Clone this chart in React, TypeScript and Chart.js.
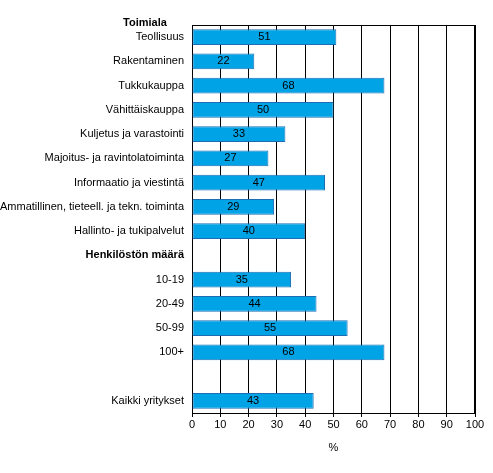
import { useEffect, useRef } from 'react';
import { Chart, registerables } from 'chart.js';

Chart.register(...registerables);

const categories = [
  'Teollisuus',
  'Rakentaminen',
  'Tukkukauppa',
  'Vähittäiskauppa',
  'Kuljetus ja varastointi',
  'Majoitus- ja ravintolatoiminta',
  'Informaatio ja viestintä',
  'Ammatillinen, tieteell. ja tekn. toiminta',
  'Hallinto- ja tukipalvelut',
  'Henkilöstön määrä',
  '10-19',
  '20-49',
  '50-99',
  '100+',
  '',
  'Kaikki yritykset'
];

const values = [51, 22, 68, 50, 33, 27, 47, 29, 40, null, 35, 44, 55, 68, null, 43];

const headingTop = 'Toimiala';
const boldRows = ['Henkilöstön määrä'];
const axisTitle = '%';

const FONT = '"Liberation Sans", Arial, sans-serif';

export default function App() {
  const canvasRef = useRef<HTMLCanvasElement>(null);
  const chartRef = useRef<Chart | null>(null);

  useEffect(() => {
    if (!canvasRef.current) return;
    const ctx = canvasRef.current.getContext('2d');
    if (!ctx) return;
    if (chartRef.current) chartRef.current.destroy();

    const labelPlugin = {
      id: 'barLabels',
      afterDatasetsDraw(chart: any) {
        const c = chart.ctx;
        const meta = chart.getDatasetMeta(0);
        c.save();
        c.font = '11px ' + FONT;
        c.fillStyle = '#000';
        c.textAlign = 'center';
        c.textBaseline = 'middle';
        meta.data.forEach((bar: any, i: number) => {
          const v = values[i];
          if (v == null) return;
          c.fillText(String(v), (bar.x + bar.base) / 2, bar.y);
        });
        // heading above the first category
        c.font = 'bold 11px ' + FONT;
        c.fillText(headingTop, 145, chart.chartArea.top - 2);
        c.restore();
      }
    };

    chartRef.current = new Chart(ctx, {
      type: 'bar',
      data: {
        labels: categories,
        datasets: [
          {
            data: values,
            backgroundColor: '#00a3e6',
            borderColor: '#1b6eb4',
            borderWidth: 1,
            borderSkipped: false,
            barPercentage: 0.64,
            categoryPercentage: 1
          }
        ]
      },
      options: {
        indexAxis: 'y',
        animation: false,
        responsive: false,
        layout: { padding: { top: 25, right: 18, left: 0, bottom: 18 } },
        plugins: {
          legend: { display: false },
          tooltip: { enabled: false }
        },
        scales: {
          x: {
            min: 0,
            max: 100,
            afterFit(scale: any) {
              scale.height = 42;
            },
            ticks: {
              stepSize: 10,
              color: '#000',
              font: { family: FONT, size: 11 },
              padding: 1,
              maxRotation: 0
            },
            grid: {
              color: '#000',
              lineWidth: 1,
              drawTicks: true,
              tickLength: 4,
              tickColor: '#000'
            },
            border: { color: '#000', width: 1 },
            title: {
              display: true,
              text: axisTitle,
              color: '#000',
              font: { family: FONT, size: 11 },
              padding: { top: 8, bottom: 0 }
            }
          },
          y: {
            afterFit(scale: any) {
              scale.width = 192;
            },
            ticks: {
              color: '#000',
              padding: 8,
              autoSkip: false,
              font: (c: any) => ({
                family: FONT,
                size: 11,
                weight: boldRows.includes(categories[c.index]) ? 'bold' : 'normal'
              })
            },
            grid: { display: false, drawTicks: false },
            border: { color: '#000', width: 1 }
          }
        }
      },
      plugins: [
        labelPlugin,
        {
          id: 'frame',
          afterDraw(chart: any) {
            const { left, right, top, bottom } = chart.chartArea;
            const c = chart.ctx;
            c.save();
            c.strokeStyle = '#000';
            c.lineWidth = 1;
            c.beginPath();
            c.moveTo(left, top + 0.5);
            c.lineTo(right, top + 0.5);
            c.moveTo(right - 0.5, top);
            c.lineTo(right - 0.5, bottom);
            c.stroke();
            c.restore();
          }
        }
      ]
    } as any);

    return () => {
      if (chartRef.current) chartRef.current.destroy();
    };
  }, []);

  return (
    <div style={{ position: 'fixed', left: 0, top: 0, width: 493, height: 473, background: '#fff' }}>
      <canvas ref={canvasRef} width={493} height={473} />
    </div>
  );
}
